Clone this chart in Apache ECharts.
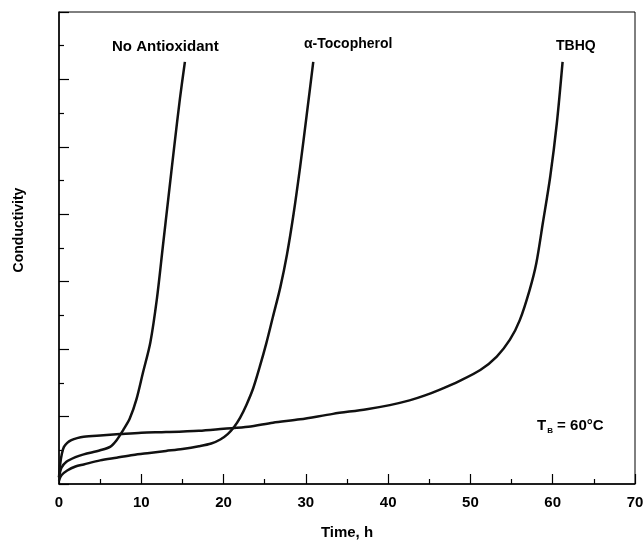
<!DOCTYPE html>
<html>
<head>
<meta charset="utf-8">
<script src="https://cdn.jsdelivr.net/npm/echarts@6/dist/echarts.min.js"></script>
<style>
  html, body { margin: 0; padding: 0; background: #fff; }
  #main { width: 644px; height: 540px; }
</style>
</head>
<body>
<div id="main"></div>
<script>
// time (h) and conductivity (arbitrary units)
var noAntiT = [0, 0.3, 0.9, 2, 3, 5, 6.2, 7, 7.8, 8.6, 9.4, 10.2, 11.1, 11.9, 12.6, 13.3, 14.0, 14.7, 15.3];
var noAntiV = [0.1, 0.24, 0.33, 0.4, 0.44, 0.5, 0.55, 0.65, 0.8, 0.97, 1.25, 1.65, 2.1, 2.75, 3.5, 4.25, 5.0, 5.72, 6.26];

var tocoT = [0, 0.3, 1, 2, 3, 5, 7, 9, 11, 13, 15, 17, 18.5, 19.6, 20.5, 21.3, 22, 22.8, 23.6, 24.4, 25.2, 26, 26.9, 27.7, 28.5, 29.3, 30.1, 30.9];
var tocoV = [0.05, 0.13, 0.2, 0.26, 0.29, 0.35, 0.39, 0.43, 0.46, 0.49, 0.52, 0.56, 0.6, 0.66, 0.74, 0.85, 0.98, 1.18, 1.42, 1.74, 2.09, 2.48, 2.92, 3.4, 4.0, 4.7, 5.47, 6.26];

var tbhqT = [0, 0.15, 0.35, 0.6, 1, 1.5, 2.2, 3, 5, 7.4, 10, 13, 17, 20, 23, 26, 29.3, 33.3, 37.4, 40.2, 42.6, 44.4, 46.3, 48.7, 51.2, 53.2, 54.8, 56, 57.2, 58, 58.8, 59.7, 60.5, 61.2];
var tbhqV = [0.1, 0.3, 0.45, 0.55, 0.61, 0.65, 0.68, 0.7, 0.72, 0.74, 0.76, 0.77, 0.79, 0.82, 0.85, 0.91, 0.96, 1.04, 1.11, 1.17, 1.24, 1.31, 1.4, 1.53, 1.69, 1.89, 2.14, 2.43, 2.88, 3.27, 3.87, 4.56, 5.35, 6.26];

var xTicks = [0, 10, 20, 30, 40, 50, 60, 70];

function pairs(t, v) {
  return t.map(function (x, i) { return [x, v[i]]; });
}

var font = 'Liberation Sans, Arial, sans-serif';

var axisCommon = {
  axisLine: { lineStyle: { color: '#000', width: 1.5 } },
  axisTick: { inside: true, length: 10, lineStyle: { color: '#000', width: 1.2 } },
  minorTick: { show: true, splitNumber: 2, length: 5, lineStyle: { color: '#000', width: 1.2 } },
  splitLine: { show: false },
  minorSplitLine: { show: false }
};

function curve(name, t, v) {
  return {
    name: name,
    type: 'line',
    data: pairs(t, v),
    showSymbol: false,
    smooth: 0.3,
    lineStyle: { color: '#111', width: 2.5 }
  };
}

var option = {
  backgroundColor: '#fff',
  animation: false,
  grid: {
    left: 59, right: 9, top: 12, bottom: 56,
    outerBoundsMode: 'none',
    containLabel: false,
    show: true, borderColor: '#000', borderWidth: 1
  },
  xAxis: Object.assign({
    type: 'value',
    min: xTicks[0],
    max: xTicks[xTicks.length - 1],
    interval: 10,
    name: 'Time, h',
    nameLocation: 'middle',
    nameGap: 41,
    nameTextStyle: { color: '#000', fontSize: 15, fontWeight: 'bold', fontFamily: font },
    axisLabel: { color: '#000', fontSize: 15, fontWeight: 'bold', fontFamily: font, margin: 11 }
  }, axisCommon),
  yAxis: Object.assign({
    type: 'value',
    min: 0,
    max: 7,
    interval: 1,
    axisLabel: { show: false }
  }, axisCommon),
  graphic: [
    {
      type: 'text', x: 19, y: 230, rotation: Math.PI / 2,
      style: { text: 'Conductivity', fill: '#000', font: 'bold 14px ' + font, textAlign: 'center', textVerticalAlign: 'middle' }
    },
    {
      type: 'text', left: 112, top: 39,
      style: { text: 'No Antioxidant', fill: '#000', font: 'bold 15px ' + font }
    },
    {
      type: 'text', left: 304, top: 37,
      style: { text: 'α-Tocopherol', fill: '#000', font: 'bold 14px ' + font }
    },
    {
      type: 'text', left: 556, top: 39,
      style: { text: 'TBHQ', fill: '#000', font: 'bold 14px ' + font }
    },
    {
      type: 'text', left: 537, top: 418,
      style: {
        text: '{a|T}{b|B}{a| = 60°C}',
        rich: {
          a: { fill: '#000', fontSize: 15, fontWeight: 'bold', fontFamily: font },
          b: { fill: '#000', fontSize: 8, fontWeight: 'bold', fontFamily: font, padding: [11, 0, 0, 1] }
        }
      }
    }
  ],
  series: [
    curve('No Antioxidant', noAntiT, noAntiV),
    curve('α-Tocopherol', tocoT, tocoV),
    curve('TBHQ', tbhqT, tbhqV)
  ]
};

var myChart = echarts.init(document.getElementById('main'));
myChart.setOption(option);
</script>
</body>
</html>
